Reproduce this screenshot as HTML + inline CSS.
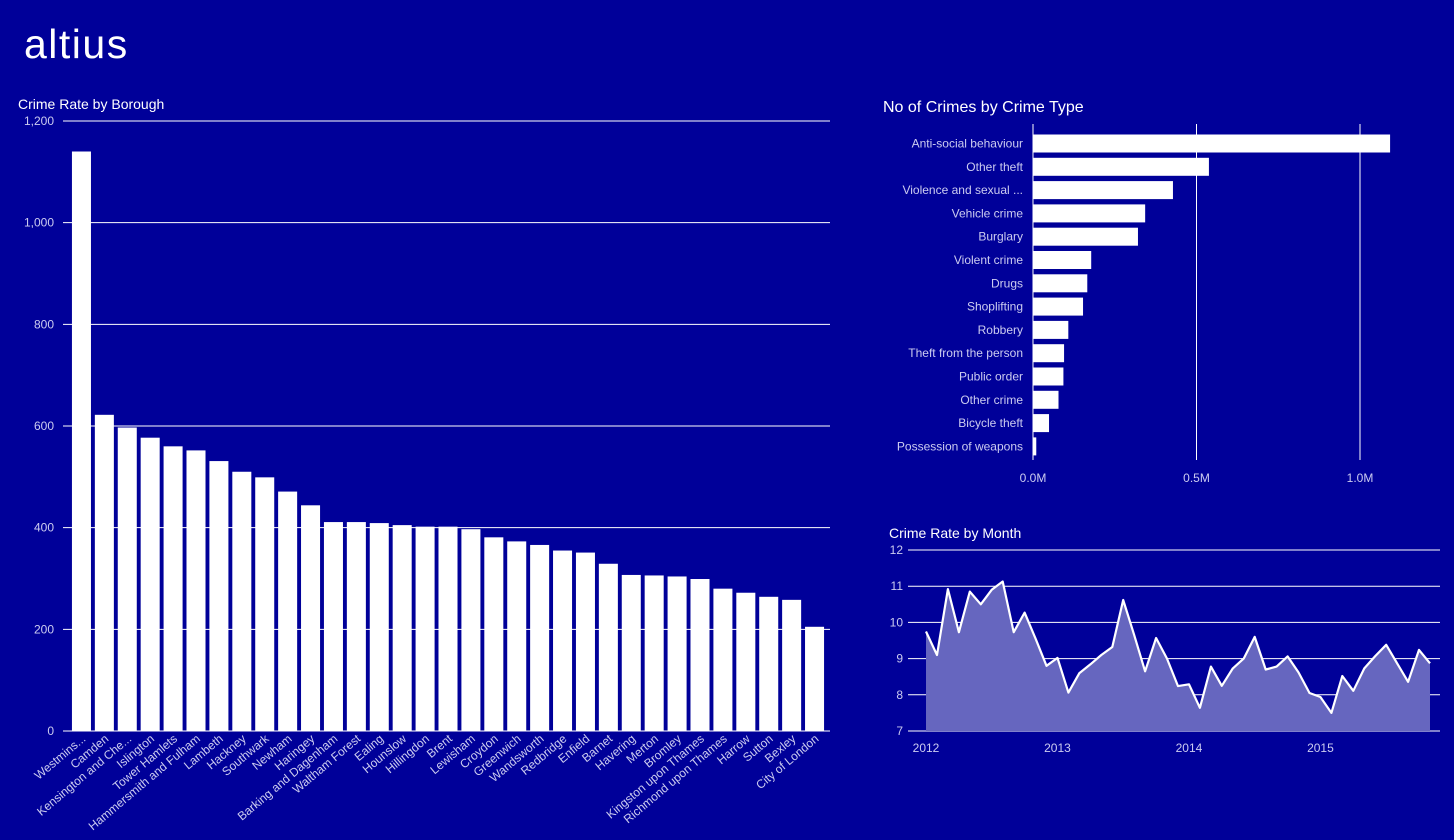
<!DOCTYPE html>
<html><head><meta charset="utf-8"><style>
html,body{margin:0;padding:0;background:#000099;width:1454px;height:840px;overflow:hidden}
svg{display:block;font-family:"Liberation Sans",sans-serif}
.t{fill:#ccccf0;font-size:12px}
</style></head><body>
<svg id="s" width="1454" height="840">
<text x="24" y="58" fill="#fff" font-size="41" letter-spacing="1.5">altius</text>
<text x="18" y="109" fill="#fff" font-size="14">Crime Rate by Borough</text>
<text x="883" y="112" fill="#fff" font-size="16">No of Crimes by Crime Type</text>
<text x="889" y="538" fill="#fff" font-size="14">Crime Rate by Month</text>
<g id="g1"></g>
<g id="g2"></g>
<g id="g3"></g>
</svg>
<script>
const boroughs=["Westmins...","Camden","Kensington and Che...","Islington","Tower Hamlets","Hammersmith and Fulham","Lambeth","Hackney","Southwark","Newham","Haringey","Barking and Dagenham","Waltham Forest","Ealing","Hounslow","Hillingdon","Brent","Lewisham","Croydon","Greenwich","Wandsworth","Redbridge","Enfield","Barnet","Havering","Merton","Bromley","Kingston upon Thames","Richmond upon Thames","Harrow","Sutton","Bexley","City of London"];
const boroughRates=[1140,622,597,577,560,552,531,510,499,471,444,411,411,409,405,402,402,397,381,373,366,355,351,329,307,306,304,299,280,272,264,258,205];
const boroughTicks=[0,200,400,600,800,1000,1200];
const crimeTypes=["Anti-social behaviour","Other theft","Violence and sexual ...","Vehicle crime","Burglary","Violent crime","Drugs","Shoplifting","Robbery","Theft from the person","Public order","Other crime","Bicycle theft","Possession of weapons"];
const crimeCounts=[1.092,0.538,0.428,0.343,0.321,0.178,0.166,0.153,0.108,0.095,0.093,0.078,0.049,0.01];
const crimeTicks=[0,0.5,1.0];
const crimeTickLabels=["0.0M","0.5M","1.0M"];
const monthRates=[9.75,9.1,10.92,9.73,10.85,10.5,10.9,11.13,9.73,10.27,9.55,8.8,9.02,8.06,8.6,8.84,9.1,9.32,10.62,9.65,8.65,9.57,9.0,8.24,8.29,7.64,8.78,8.25,8.73,9.0,9.6,8.7,8.78,9.06,8.62,8.05,7.94,7.5,8.52,8.11,8.73,9.07,9.38,8.87,8.36,9.24,8.87];
const monthTicks=[7,8,9,10,11,12];
const yearLabels=["2012","2013","2014","2015"];
const yearIdx=[0,12,24,36];

const NS="http://www.w3.org/2000/svg";
function mk(p,tag,a,txt){const e=document.createElementNS(NS,tag);for(const k in a)e.setAttribute(k,a[k]);if(txt!=null)e.textContent=txt;p.appendChild(e);return e;}

// Chart 1
const g1=document.getElementById('g1');
const y1=v=>731-v*(610/1200);
const step1=(826-70)/boroughs.length;
const x1=i=>70+i*step1;
boroughTicks.forEach(t=>{
  const l=mk(g1,'line',{x1:63,x2:830,y1:y1(t),y2:y1(t),stroke:'#fff','stroke-width':1});
  
  
  const tx=mk(g1,'text',{x:54,y:y1(t)+4,'text-anchor':'end',class:'t'},t.toLocaleString('en-US'));
  
  
});
boroughs.forEach((b,i)=>{
  const bw=step1*0.83;
  const r=mk(g1,'rect',{x:x1(i)+(step1-bw)/2,y:y1(boroughRates[i]),width:bw,height:731-y1(boroughRates[i]),fill:'#fff'});
  
  
  const cx=x1(i)+step1/2+5;
  const tx=mk(g1,'text',{x:cx,y:740,'text-anchor':'end',class:'t','font-size':'11.5',transform:`rotate(-40 ${cx} 740)`},b);
  
  
});

// Chart 2
const g2=document.getElementById('g2');
const x2=v=>1033+v*327;
const yc=i=>143.5+i*23.3;
crimeTicks.forEach((t,k)=>{
  const l=mk(g2,'line',{x1:x2(t),x2:x2(t),y1:124,y2:460,stroke:'#fff','stroke-width':1});
  
  
  const tx=mk(g2,'text',{x:x2(t),y:482,'text-anchor':'middle',class:'t'},crimeTickLabels[k]);
  
  
});
crimeTypes.forEach((c,i)=>{
  const r=mk(g2,'rect',{x:1033,y:yc(i)-9,width:x2(crimeCounts[i])-1033,height:18,fill:'#fff'});
  
  
  const tx=mk(g2,'text',{x:1023,y:yc(i)+4,'text-anchor':'end',class:'t'},c);
  
  
});

// Chart 3
const g3=document.getElementById('g3');
const y3=v=>731-(v-7)*36.2;
const x3=i=>926+i*(1430-926)/46;
monthTicks.forEach(t=>{
  const l=mk(g3,'line',{x1:908,x2:1440,y1:y3(t),y2:y3(t),stroke:'#fff','stroke-width':1});
  
  
  const tx=mk(g3,'text',{x:903,y:y3(t)+4,'text-anchor':'end',class:'t'},String(t));
  
  
});
const pts=monthRates.map((v,i)=>x3(i).toFixed(1)+','+y3(v).toFixed(1));
const area=mk(g3,'polygon',{points:x3(0)+','+y3(7)+' '+pts.join(' ')+' '+x3(monthRates.length-1)+','+y3(7),fill:'#6666bf'});


const line=mk(g3,'polyline',{points:pts.join(' '),fill:'none',stroke:'#fff','stroke-width':2.2,'stroke-linejoin':'round'});


yearLabels.forEach((y,k)=>{
  const tx=mk(g3,'text',{x:x3(yearIdx[k]),y:752,'text-anchor':'middle',class:'t'},y);
  
  
});
</script>
</body></html>
